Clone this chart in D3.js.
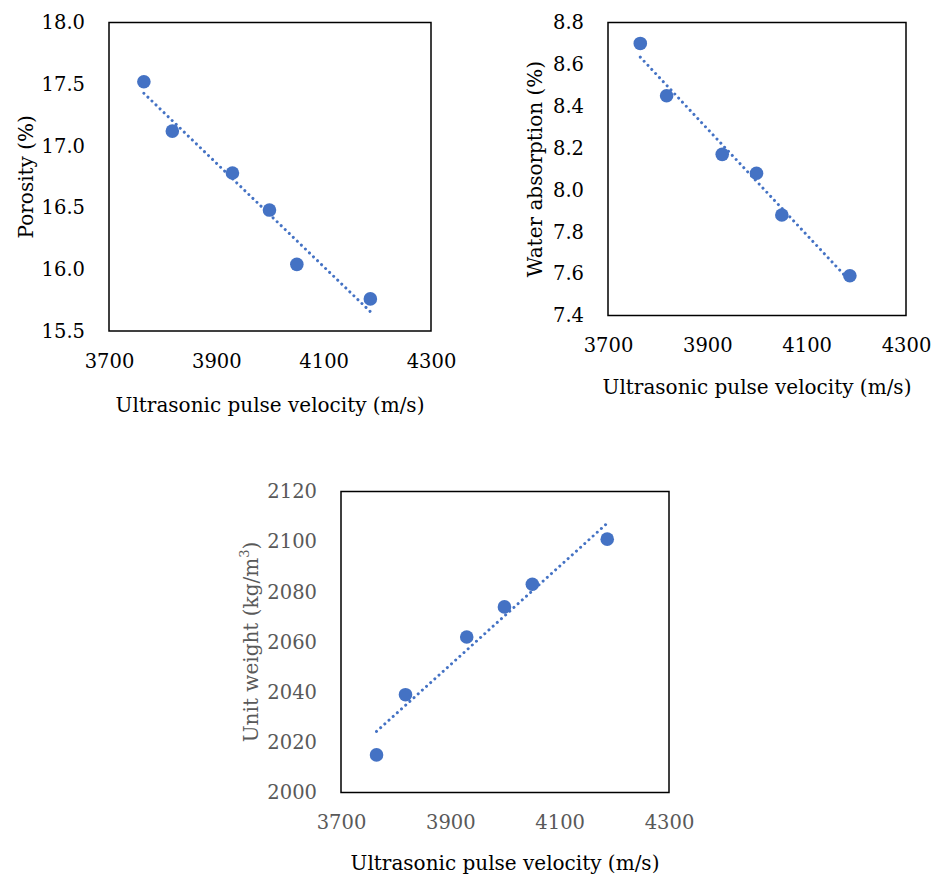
<!DOCTYPE html>
<html>
<head>
<meta charset="utf-8">
<script src="https://cdn.jsdelivr.net/npm/d3@7"></script>
<style>
  html, body { margin: 0; padding: 0; background: #fff; }
  svg text { font-family: "DejaVu Serif", serif; }
</style>
</head>
<body>
<div id="chart"></div>
<script>
// data
const velocity = [3765, 3818, 3930, 3999, 4050, 4187];
const porosity = [17.52, 17.12, 16.78, 16.48, 16.04, 15.76];
const waterAbsorption = [8.70, 8.45, 8.17, 8.08, 7.88, 7.59];
const unitWeight = [2015, 2039, 2062, 2074, 2083, 2101];

const xTicks = [3700, 3900, 4100, 4300];
const porosityTicks = [15.5, 16.0, 16.5, 17.0, 17.5, 18.0];
const absorptionTicks = [7.4, 7.6, 7.8, 8.0, 8.2, 8.4, 8.6, 8.8];
const weightTicks = [2000, 2020, 2040, 2060, 2080, 2100, 2120];

const xTitle = 'Ultrasonic pulse velocity (m/s)';

const width = 935;
const height = 877;
const blue = '#4472c4';
const tickSize = 19.5;
const titleSize = 20;

const svg = d3.select('#chart')
  .append('svg')
  .attr('width', width)
  .attr('height', height)
  .attr('viewBox', [0, 0, width, height]);

// least squares fit, like the Excel linear trendline
function fit(xs, ys) {
  const mx = d3.mean(xs);
  const my = d3.mean(ys);
  const slope = d3.sum(xs, (x, i) => (x - mx) * (ys[i] - my)) / d3.sum(xs, (x) => (x - mx) ** 2);
  return (x) => my + slope * (x - mx);
}

function panel(opts) {
  const {
    left, right, top, bottom, values, yTicks, fmt, yTitle, tickColor, yTitleColor, yTitleX, xTitleY,
  } = opts;

  const x = d3.scaleLinear().domain([3700, 4300]).range([left, right]);
  const y = d3.scaleLinear().domain(d3.extent(yTicks)).range([bottom, top]);

  const g = svg.append('g');

  const yAxis = d3.axisLeft(y).tickValues(yTicks).tickFormat(fmt).tickSize(0).tickPadding(24);
  g.append('g')
    .attr('transform', `translate(${left},0)`)
    .call(yAxis)
    .call((a) => a.select('.domain').remove())
    .call((a) => a.selectAll('text')
      .attr('font-family', null)
      .attr('font-size', tickSize)
      .attr('fill', tickColor));

  const xAxis = d3.axisBottom(x).tickValues(xTicks).tickFormat(d3.format('d')).tickSize(0).tickPadding(23);
  g.append('g')
    .attr('transform', `translate(0,${bottom})`)
    .call(xAxis)
    .call((a) => a.select('.domain').remove())
    .call((a) => a.selectAll('text')
      .attr('font-family', null)
      .attr('font-size', tickSize)
      .attr('fill', tickColor));

  g.append('rect')
    .attr('x', left)
    .attr('y', top)
    .attr('width', right - left)
    .attr('height', bottom - top)
    .attr('fill', 'none')
    .attr('stroke', '#000')
    .attr('stroke-width', 1.5);

  const trend = fit(velocity, values);
  const ends = d3.extent(velocity);
  g.append('path')
    .datum(ends)
    .attr('fill', 'none')
    .attr('stroke', blue)
    .attr('stroke-width', 3)
    .attr('stroke-linecap', 'round')
    .attr('stroke-dasharray', '0.01 5.6')
    .attr('d', d3.line().x((d) => x(d)).y((d) => y(trend(d))));

  g.selectAll('circle')
    .data(velocity)
    .join('circle')
    .attr('cx', (d) => x(d))
    .attr('cy', (d, i) => y(values[i]))
    .attr('r', 6.8)
    .attr('fill', blue);

  const cy = (top + bottom) / 2;
  const yt = g.append('text')
    .attr('transform', `translate(${yTitleX},${cy}) rotate(-90)`)
    .attr('text-anchor', 'middle')
    .attr('dominant-baseline', 'central')
    .attr('font-size', titleSize)
    .attr('fill', yTitleColor);
  yTitle.forEach((part) => {
    const s = yt.append('tspan').text(part.t);
    if (part.sup) s.attr('dy', -7).attr('font-size', titleSize * 0.65);
    else if (part.after) s.attr('dy', 7);
  });

  g.append('text')
    .attr('x', (left + right) / 2)
    .attr('y', xTitleY)
    .attr('text-anchor', 'middle')
    .attr('font-size', titleSize)
    .attr('fill', '#000')
    .text(xTitle);
}

panel({
  left: 109, right: 431, top: 22.5, bottom: 331,
  values: porosity, yTicks: porosityTicks, fmt: d3.format('.1f'),
  yTitle: [{ t: 'Porosity (%)' }], tickColor: '#000', yTitleColor: '#000',
  yTitleX: 26, xTitleY: 412,
});

panel({
  left: 608, right: 906, top: 22.5, bottom: 315.5,
  values: waterAbsorption, yTicks: absorptionTicks, fmt: d3.format('.1f'),
  yTitle: [{ t: 'Water absorption (%)' }], tickColor: '#000', yTitleColor: '#000',
  yTitleX: 535, xTitleY: 394,
});

panel({
  left: 341, right: 669, top: 491.5, bottom: 792.5,
  values: unitWeight, yTicks: weightTicks, fmt: d3.format('d'),
  yTitle: [{ t: 'Unit weight (kg/m' }, { t: '3', sup: true }, { t: ')', after: true }],
  tickColor: '#595959', yTitleColor: '#595959',
  yTitleX: 251, xTitleY: 870,
});
</script>
</body>
</html>
